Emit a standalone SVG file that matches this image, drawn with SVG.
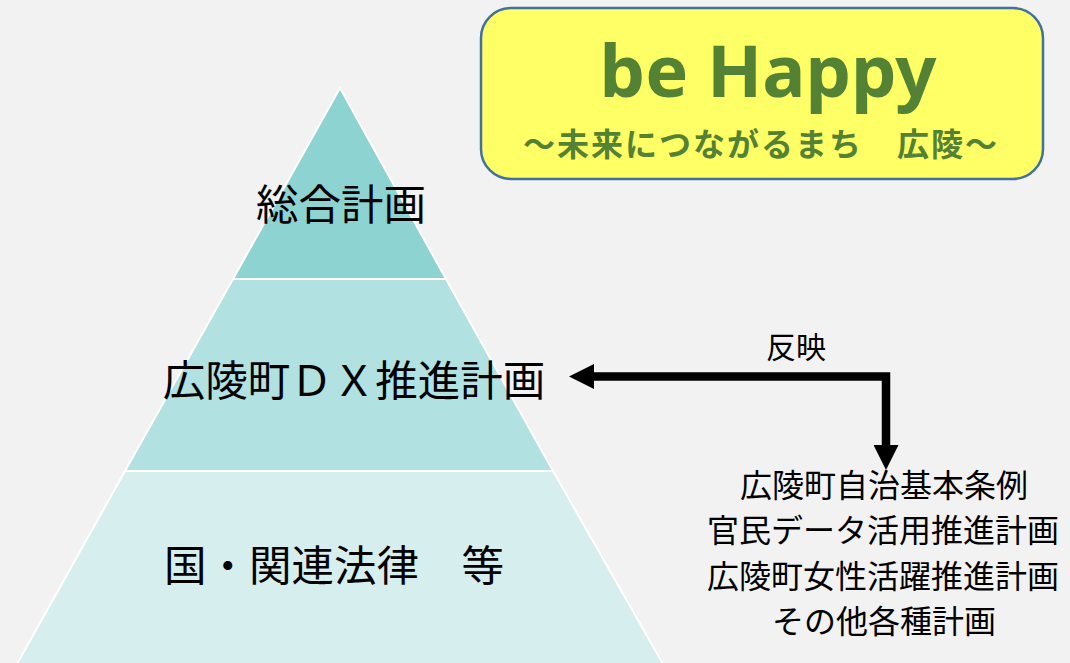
<svg xmlns="http://www.w3.org/2000/svg" width="1070" height="663" viewBox="0 0 1070 663">
<defs>
<style>
.jp{font-family:"Noto Sans CJK JP","Noto Sans",sans-serif;fill:#000;text-anchor:middle}
.big{font-size:42.5px}
.side{font-size:32px}
.title{font-family:"Noto Sans","Noto Sans CJK JP",sans-serif;font-weight:bold;fill:#548235;text-anchor:middle}
.tier{stroke:#ffffff;stroke-width:2}
</style>
<marker id="ah" viewBox="0 0 24 24" markerUnits="userSpaceOnUse" markerWidth="25" markerHeight="25" refX="0" refY="12" orient="auto-start-reverse">
<path d="M0,0 L24,12 L0,24 z" fill="#000"/>
</marker>
</defs>
<rect width="1070" height="663" fill="#f2f2f2"/>
<g id="tier-top">
<polygon class="tier" points="340,88 446,279 233,279" fill="#8cd3d2"/>
<text class="jp big" x="341" y="220">総合計画</text>
</g>
<g id="tier-middle">
<polygon class="tier" points="233,279 446,279 553,471 125,471" fill="#b1e1e0"/>
<text class="jp big" x="354" y="396">広陵町ＤＸ推進計画</text>
</g>
<g id="tier-bottom">
<polygon class="tier" points="125,471 553,471 663,664 17,664" fill="#d6eeee"/>
<text class="jp big" x="334" y="581">国・関連法律　等</text>
</g>
<g id="banner">
<rect x="481" y="8" width="562" height="171" rx="30" ry="30" fill="#ffff66" stroke="#41719c" stroke-width="2.5"/>
<text class="title" x="768" y="97" font-size="71" textLength="337" lengthAdjust="spacingAndGlyphs">be Happy</text>
<text class="title" x="760" y="156" font-size="32" textLength="474" style="font-family:'Noto Sans CJK JP',sans-serif">～未来につながるまち　広陵～</text>
</g>
<g id="related-plans">
<text class="jp side" x="884" y="497">広陵町自治基本条例</text>
<text class="jp side" x="883" y="542">官民データ活用推進計画</text>
<text class="jp side" x="883" y="588">広陵町女性活躍推進計画</text>
<text class="jp side" x="884" y="633">その他各種計画</text>
</g>
<g id="connectors">
<path d="M594,376.5 H886 V445" fill="none" stroke="#000" stroke-width="8.5" stroke-linejoin="miter" marker-start="url(#ah)" marker-end="url(#ah)"/>
<text class="jp" x="796" y="358" font-size="30">反映</text>
</g>
</svg>
